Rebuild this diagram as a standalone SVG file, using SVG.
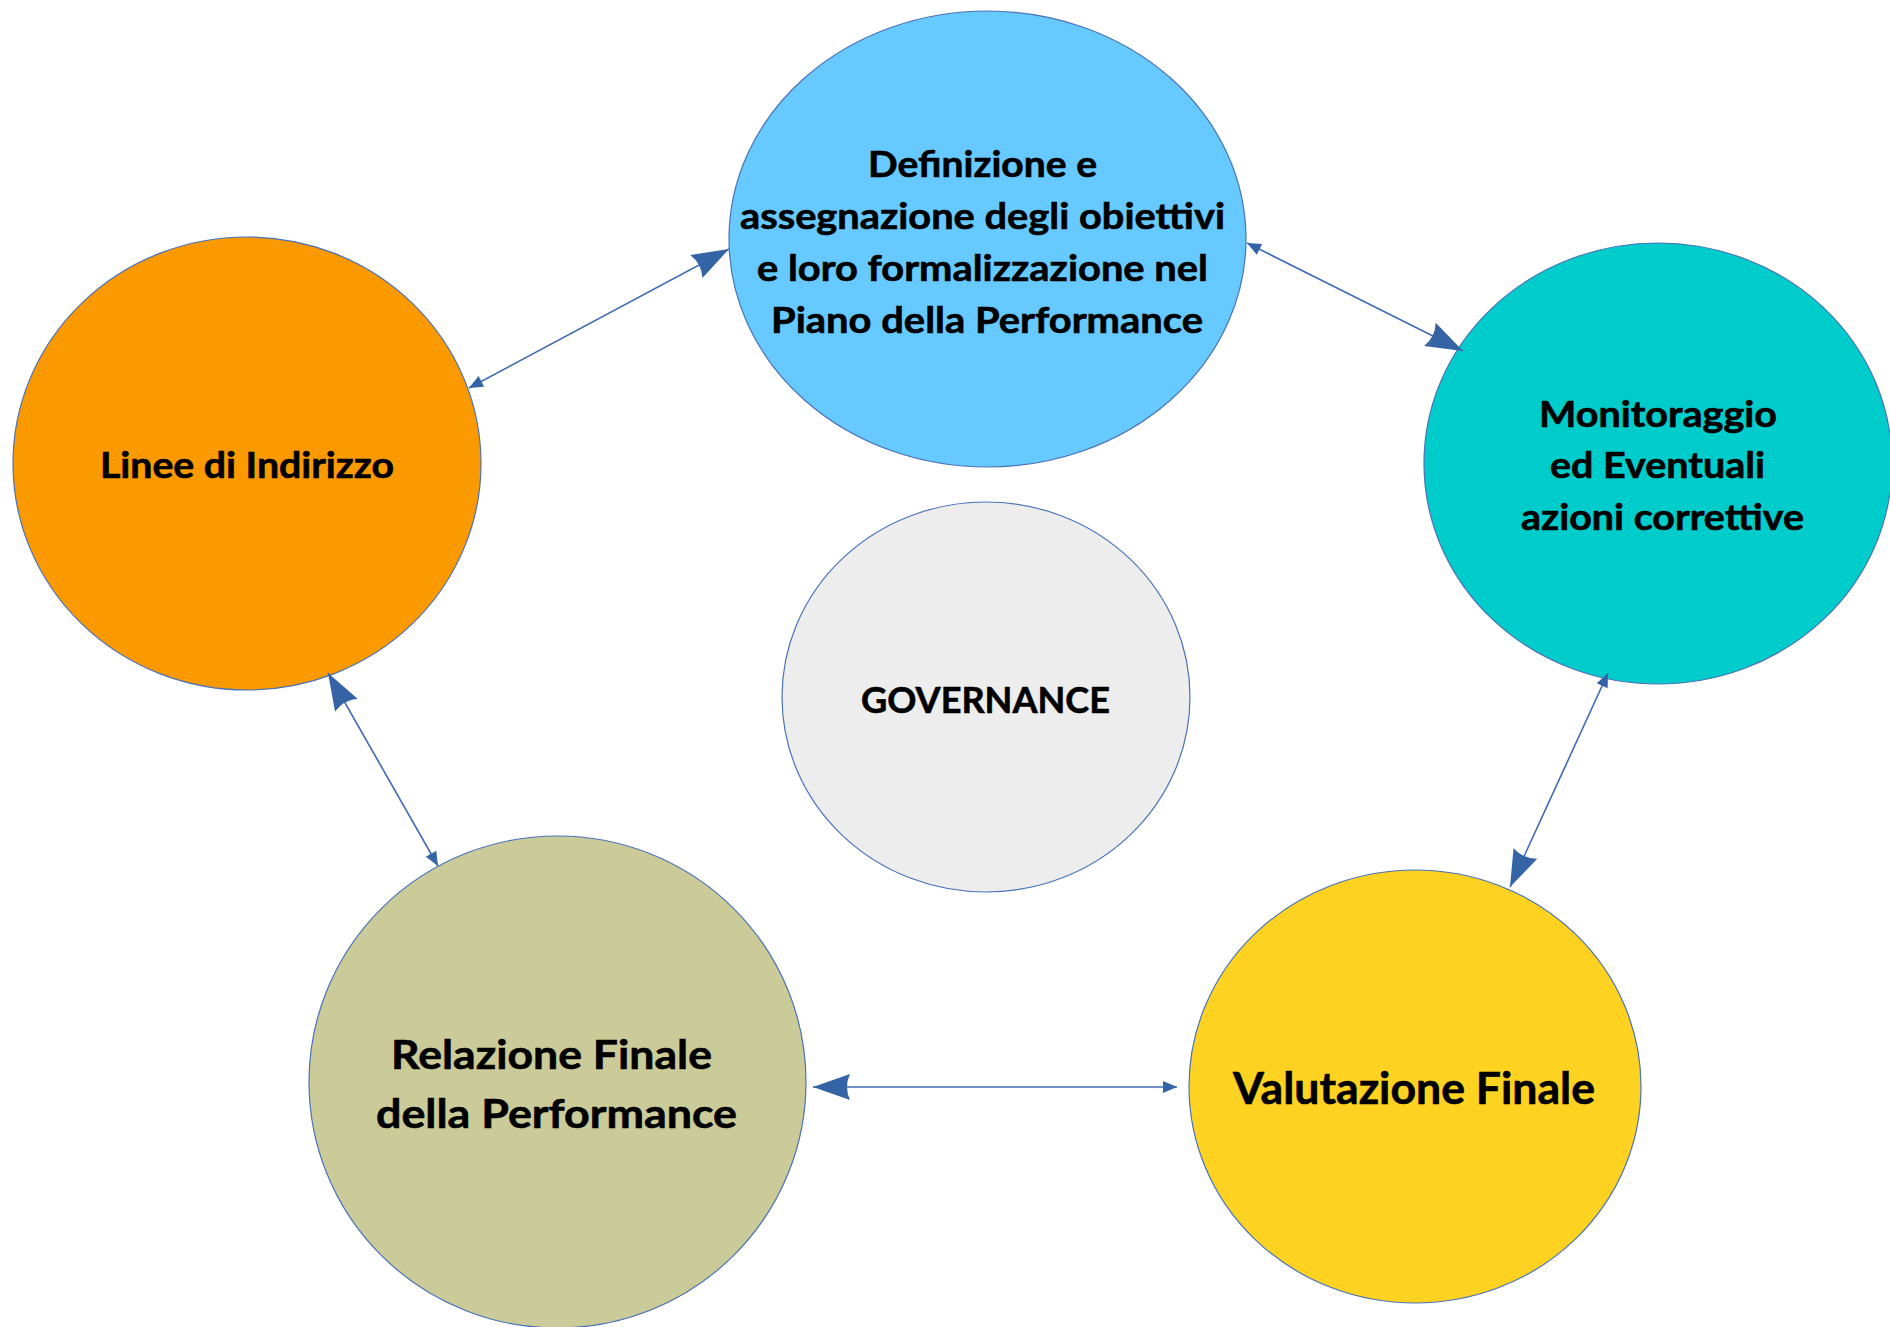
<svg xmlns="http://www.w3.org/2000/svg" width="1890" height="1327" viewBox="0 0 1890 1327">
  <style>
    .node { stroke: #4a72b8; stroke-width: 1.2; }
    .label { font-family: Lato, "Open Sans", "Liberation Sans", sans-serif; font-weight: 700; fill: #000; stroke: #000; stroke-width: 0.6; }
    .s37 { font-size: 37px; }
    .s41 { font-size: 41px; }
    .s43 { font-size: 43px; }
    .link { stroke: #3f6cb0; stroke-width: 1.6; fill: none; }
  </style>
  <defs>
    <!-- swept-back head, tip at the origin, pointing along +x -->
    <marker id="headBig" markerUnits="userSpaceOnUse" viewBox="-40 -16 42 32" markerWidth="42" markerHeight="32" refX="0" refY="0" orient="auto-start-reverse">
      <path d="M0,0 L-37,-13 Q-31,0 -37,13 Z" fill="#3464a6"/>
    </marker>
    <!-- plain triangular head -->
    <marker id="headSmall" markerUnits="userSpaceOnUse" viewBox="-16 -8 18 16" markerWidth="18" markerHeight="16" refX="0" refY="0" orient="auto-start-reverse">
      <path d="M0,0 L-14,-6 L-14,6 Z" fill="#3464a6"/>
    </marker>
  </defs>

  <rect width="1890" height="1327" fill="#ffffff"/>

  <g id="node-definizione">
    <ellipse class="node" cx="987.5" cy="239" rx="258.5" ry="228" fill="#66c9ff"/>
    <text class="label s37" x="868" y="177" textLength="229" lengthAdjust="spacingAndGlyphs">Definizione e</text>
    <text class="label s37" x="740" y="229" textLength="485" lengthAdjust="spacingAndGlyphs">assegnazione degli obiettivi</text>
    <text class="label s37" x="757" y="281" textLength="451" lengthAdjust="spacingAndGlyphs">e loro formalizzazione nel</text>
    <text class="label s37" x="771" y="333" textLength="432" lengthAdjust="spacingAndGlyphs">Piano della Performance</text>
  </g>

  <g id="node-linee">
    <ellipse class="node" cx="247" cy="463.5" rx="234" ry="226.5" fill="#fb9900"/>
    <text class="label s37" x="100" y="478" textLength="294" lengthAdjust="spacingAndGlyphs">Linee di Indirizzo</text>
  </g>

  <g id="node-monitoraggio">
    <ellipse class="node" cx="1658" cy="463.5" rx="234" ry="220.5" fill="#00cccc"/>
    <text class="label s37" x="1539" y="427" textLength="238" lengthAdjust="spacingAndGlyphs">Monitoraggio</text>
    <text class="label s37" x="1550" y="478" textLength="215" lengthAdjust="spacingAndGlyphs">ed Eventuali</text>
    <text class="label s37" x="1521" y="530" textLength="283" lengthAdjust="spacingAndGlyphs">azioni correttive</text>
  </g>

  <g id="node-governance">
    <ellipse class="node" cx="986" cy="697" rx="204" ry="195" fill="#ededed"/>
    <text class="label s37" x="861" y="713" textLength="249" lengthAdjust="spacingAndGlyphs">GOVERNANCE</text>
  </g>

  <g id="node-relazione">
    <ellipse class="node" cx="557.5" cy="1082" rx="248.5" ry="246" fill="#cbcb99"/>
    <text class="label s41" x="391" y="1069" textLength="321" lengthAdjust="spacingAndGlyphs">Relazione Finale</text>
    <text class="label s41" x="376" y="1128" textLength="361" lengthAdjust="spacingAndGlyphs">della Performance</text>
  </g>

  <g id="node-valutazione">
    <ellipse class="node" cx="1415" cy="1086.5" rx="226" ry="216.5" fill="#fdd220"/>
    <text class="label s43" x="1233" y="1104" textLength="362" lengthAdjust="spacingAndGlyphs">Valutazione Finale</text>
  </g>

  <g id="connectors">
    <!-- Linee di Indirizzo <-> Definizione -->
    <line class="link" x1="469" y1="388" x2="729" y2="249" marker-start="url(#headSmall)" marker-end="url(#headBig)"/>
    <!-- Definizione <-> Monitoraggio -->
    <line class="link" x1="1247" y1="243" x2="1463" y2="351" marker-start="url(#headSmall)" marker-end="url(#headBig)"/>
    <!-- Monitoraggio <-> Valutazione -->
    <line class="link" x1="1608" y1="673" x2="1510" y2="887" marker-start="url(#headSmall)" marker-end="url(#headBig)"/>
    <!-- Valutazione <-> Relazione -->
    <line class="link" x1="1177" y1="1087" x2="813" y2="1087" marker-start="url(#headSmall)" marker-end="url(#headBig)"/>
    <!-- Relazione <-> Linee di Indirizzo -->
    <line class="link" x1="438" y1="866" x2="328" y2="673" marker-start="url(#headSmall)" marker-end="url(#headBig)"/>
  </g>
</svg>
